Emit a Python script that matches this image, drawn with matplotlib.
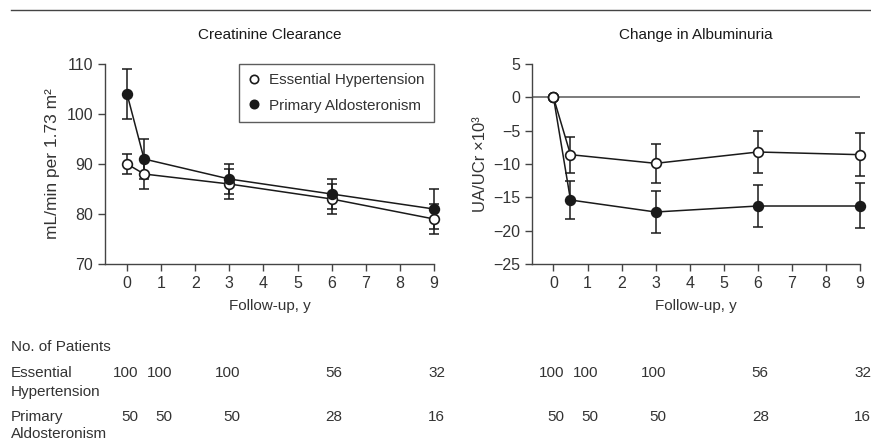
import matplotlib
matplotlib.use("Agg")
import matplotlib.pyplot as plt
import matplotlib.transforms as mtransforms
from matplotlib.lines import Line2D

plt.rcParams["font.family"] = ["Liberation Sans", "DejaVu Sans"]
plt.rcParams["font.size"] = 11

TXT = "#333333"
INK = "#1a1a1a"

years = [0, 0.5, 3, 6, 9]

# creatinine clearance, mL/min per 1.73 m2
cc_eh = [90, 88, 86, 83, 79]
cc_eh_lo = [88, 85, 83, 80, 76]
cc_eh_hi = [92, 91, 89, 86, 82]
cc_pa = [104, 91, 87, 84, 81]
cc_pa_lo = [99, 87, 84, 81, 77]
cc_pa_hi = [109, 95, 90, 87, 85]

# change in albuminuria, UA/UCr x10^3
alb_eh = [0, -8.6, -9.9, -8.2, -8.6]
alb_eh_lo = [0, -11.4, -12.9, -11.3, -11.8]
alb_eh_hi = [0, -5.9, -7.0, -5.0, -5.4]
alb_pa = [0, -15.4, -17.2, -16.3, -16.3]
alb_pa_lo = [0, -18.2, -20.3, -19.4, -19.6]
alb_pa_hi = [0, -12.6, -14.1, -13.1, -12.9]

n_eh = [100, 100, 100, 56, 32]
n_pa = [50, 50, 50, 28, 16]
n_cols = [0, 1, 3, 6, 9]

fig = plt.figure(figsize=(8.71, 4.42), dpi=100)
ax1 = fig.add_axes([0.1206, 0.4027, 0.3777, 0.4525])
ax2 = fig.add_axes([0.6108, 0.4027, 0.3766, 0.4525])


def errs(v, lo, hi):
    return [[a - b for a, b in zip(v, lo)], [c - a for a, c in zip(v, hi)]]


def series(ax, y, lo, hi, face):
    ax.errorbar(years, y, yerr=errs(y, lo, hi), fmt="none", ecolor=INK,
                elinewidth=1.1, capsize=3.5, capthick=1.1, clip_on=False, zorder=2)
    ax.plot(years, y, color=INK, lw=1.1, marker="o", ms=7, mfc=face,
            mec=INK, mew=1.2, clip_on=False, zorder=3)


def style(ax):
    for s in ["top", "right"]:
        ax.spines[s].set_visible(False)
    for s in ["left", "bottom"]:
        ax.spines[s].set_color("#444444")
        ax.spines[s].set_linewidth(1.0)
    ax.tick_params(direction="out", length=5, width=1.0, color="#444444",
                   labelcolor=TXT, labelsize=11.5)
    ax.set_xticks(range(10))
    ax.set_xlabel("Follow-up, y", color=TXT, fontsize=11, labelpad=6)


series(ax1, cc_eh, cc_eh_lo, cc_eh_hi, "white")
series(ax1, cc_pa, cc_pa_lo, cc_pa_hi, INK)
ax1.set_xlim(-0.645, 9)
ax1.set_ylim(70, 110)
ax1.set_yticks([70, 80, 90, 100, 110])
style(ax1)
ax1.set_ylabel("mL/min per 1.73 m²", color=TXT, fontsize=12.5, labelpad=5)
ax1.set_title("Creatinine Clearance", color=INK, fontsize=11, pad=18)

handles = [
    Line2D([], [], ls="none", marker="o", ms=6, mfc="white", mec=INK, mew=1.2),
    Line2D([], [], ls="none", marker="o", ms=6, mfc=INK, mec=INK, mew=1.2),
]
leg = ax1.legend(handles, ["Essential Hypertension", "Primary Aldosteronism"],
                 loc="upper right", bbox_to_anchor=(1.0, 1.0), borderaxespad=0,
                 frameon=True, fancybox=False, edgecolor="#333333",
                 handlelength=0.8, handletextpad=0.6, borderpad=0.6,
                 labelspacing=0.75, fontsize=11)
leg.get_frame().set_linewidth(1.0)
for t in leg.get_texts():
    t.set_color(TXT)

ax2.axhline(0, color="#666666", lw=1.2, zorder=1)
series(ax2, alb_eh, alb_eh_lo, alb_eh_hi, "white")
series(ax2, alb_pa, alb_pa_lo, alb_pa_hi, INK)
ax2.plot([0], [0], ls="none", marker="o", ms=7, mfc="white", mec=INK,
         mew=1.2, zorder=4)
ax2.set_xlim(-0.63, 9)
ax2.set_ylim(-25, 5)
ax2.set_yticks([-25, -20, -15, -10, -5, 0, 5])
ax2.set_yticklabels(["\u221225", "\u221220", "\u221215", "\u221210", "\u22125", "0", "5"])
style(ax2)
ax2.set_ylabel("UA/UCr \u00d710\u00b3", color=TXT, fontsize=12, labelpad=4)
ax2.set_title("Change in Albuminuria", color=INK, fontsize=11, pad=18)

# thin rule across the top
fig.add_artist(Line2D([11 / 871, 1.0], [1 - 10 / 442, 1 - 10 / 442],
                      color="#444444", lw=1.0))

# number of patients table
fig.text(11 / 871, 1 - 347 / 442, "No. of Patients", color=TXT, fontsize=11,
         va="center")
fig.text(11 / 871, 1 - 373 / 442, "Essential", color=TXT, fontsize=11, va="center")
fig.text(11 / 871, 1 - 392 / 442, "Hypertension", color=TXT, fontsize=11, va="center")
fig.text(11 / 871, 1 - 417 / 442, "Primary", color=TXT, fontsize=11, va="center")
fig.text(11 / 871, 1 - 434 / 442, "Aldosteronism", color=TXT, fontsize=11, va="center")

shift = mtransforms.ScaledTranslation(0.11, 0, fig.dpi_scale_trans)
for ax in (ax1, ax2):
    tr = mtransforms.blended_transform_factory(ax.transData, fig.transFigure) + shift
    for x, a, b in zip(n_cols, n_eh, n_pa):
        ax.text(x, 1 - 373 / 442, str(a), transform=tr, ha="right", va="center",
                color=TXT, fontsize=11, clip_on=False)
        ax.text(x, 1 - 417 / 442, str(b), transform=tr, ha="right", va="center",
                color=TXT, fontsize=11, clip_on=False)

fig.savefig("out.png", dpi=100)
